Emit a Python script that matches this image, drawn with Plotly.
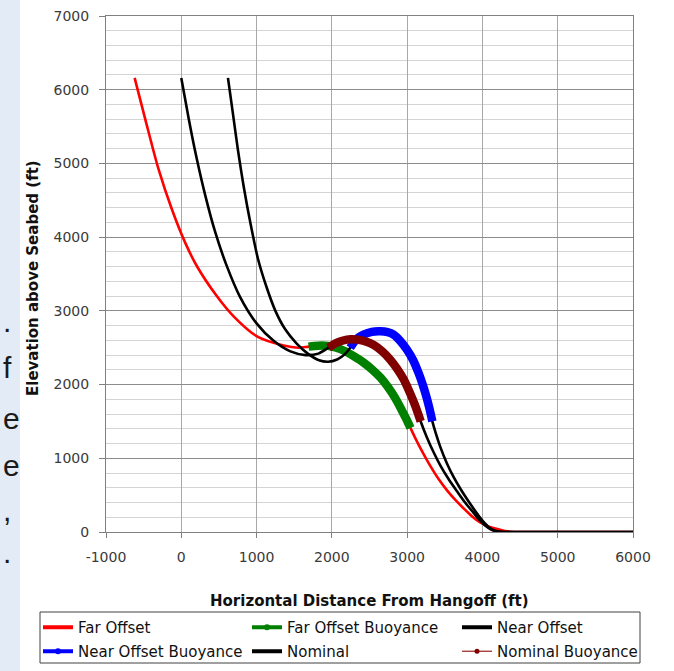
import plotly.graph_objects as go

# ---------------- data ----------------
far_x = [-620, -478, -301, -124, 53, 208, 474, 695, 1005, 1359, 1550, 1691, 1820, 1950, 2060,
         2170, 2290, 2420, 2540, 2650, 2750, 2840, 2920, 2990, 3045, 3110, 3190, 3305, 3420,
         3530, 3640, 3745, 3860, 3970, 4090, 4200, 4300, 4420, 5000, 6000]
far_y = [6160, 5598, 4918, 4375, 3922, 3605, 3197, 2925, 2654, 2530, 2500, 2515, 2528, 2525, 2500,
         2455, 2385, 2300, 2200, 2090, 1960, 1820, 1670, 1530, 1410, 1270, 1110, 900, 715,
         565, 435, 326, 215, 130, 70, 40, 14, 0, 0, 0]

far_buoy_x = [1691, 1820, 1950, 2060, 2170, 2290, 2420, 2540, 2650, 2750, 2840, 2920, 2990, 3045]
far_buoy_y = [2515, 2528, 2525, 2500, 2455, 2385, 2300, 2200, 2090, 1960, 1820, 1670, 1530, 1410]

near_x = [620, 680, 750, 830, 920, 1020, 1130, 1250, 1380, 1530, 1680, 1830, 1950, 2070, 2170,
          2244, 2330, 2421, 2530, 2643, 2740, 2819, 2910, 2997, 3080, 3152, 3210, 3260, 3300,
          3335, 3380, 3440, 3529, 3620, 3705, 3790, 3870, 3950, 4030, 4110, 4190, 4290, 5000, 6000]
near_y = [6160, 5720, 5200, 4680, 4180, 3700, 3330, 3000, 2750, 2560, 2420, 2330, 2310, 2340, 2410,
          2500, 2620, 2677, 2715, 2722, 2710, 2677, 2590, 2473, 2330, 2156, 1990, 1820, 1660,
          1500, 1340, 1155, 930, 740, 590, 455, 335, 220, 120, 45, 10, 0, 0, 0]

near_buoy_x = [2244, 2330, 2421, 2530, 2643, 2740, 2819, 2910, 2997, 3080, 3152, 3210, 3260, 3300, 3335]
near_buoy_y = [2500, 2620, 2677, 2715, 2722, 2710, 2677, 2590, 2473, 2330, 2156, 1990, 1820, 1660, 1500]

nom_x = [0, 100, 200, 320, 450, 600, 780, 1000, 1230, 1450, 1650, 1820, 1956, 2050, 2150,
         2250, 2340, 2450, 2560, 2670, 2776, 2870, 2952, 3040, 3110, 3180, 3260, 3350, 3440,
         3550, 3661, 3770, 3882, 3960, 4040, 4120, 4200, 4300, 5000, 6000]
nom_y = [6160, 5600, 5090, 4560, 4070, 3620, 3190, 2830, 2590, 2450, 2400, 2420, 2500, 2560, 2598,
         2614, 2610, 2585, 2535, 2450, 2337, 2210, 2075, 1880, 1705, 1500, 1290, 1085, 905,
         720, 555, 400, 260, 165, 85, 30, 7, 0, 0, 0]

nom_buoy_x = [1956, 2050, 2150, 2250, 2340, 2450, 2560, 2670, 2776, 2870, 2952, 3040, 3110, 3180]
nom_buoy_y = [2500, 2560, 2598, 2614, 2610, 2585, 2535, 2450, 2337, 2210, 2075, 1880, 1705, 1500]

x_ticks = [-1000, 0, 1000, 2000, 3000, 4000, 5000, 6000]
x_tick_labels = ["-1000", "0", "1000", "2000", "3000", "4000", "5000", "6000"]
y_ticks = [0, 1000, 2000, 3000, 4000, 5000, 6000, 7000]
y_tick_labels = ["0", "1000", "2000", "3000", "4000", "5000", "6000", "7000"]

series_names = ["Far Offset", "Far Offset Buoyance", "Near Offset",
                "Near Offset Buoyance", "Nominal", "Nominal Buoyance"]

# ---------------- layout geometry ----------------
W, H = 674, 671
L, R, T, B = 106, 633, 16, 532
pw, ph = R - L, B - T


def px(xp):
    return (xp - L) / pw


def py(yp):
    return (B - yp) / ph


FONT = "DejaVu Sans"
RED, GREEN, BLACK, BLUE, BROWN = "#ff0000", "#008000", "#000000", "#0000ff", "#800000"

fig = go.Figure()

# plotted curves (drawn in series order, as in the reference)
curves = [
    (far_x, far_y, RED, 2.6),
    (far_buoy_x, far_buoy_y, GREEN, 8.5),
    (near_x, near_y, BLACK, 2.6),
    (near_buoy_x, near_buoy_y, BLUE, 8.5),
    (nom_x, nom_y, BLACK, 2.6),
    (nom_buoy_x, nom_buoy_y, BROWN, 8.5),
]
for xs, ys, col, w in curves:
    fig.add_trace(go.Scatter(x=xs, y=ys, mode="lines", showlegend=False,
                             line=dict(color=col, width=w, shape="spline", smoothing=0.8),
                             hoverinfo="skip"))

# legend entries: three columns (legend, legend2, legend3)
leg_styles = [
    dict(mode="lines", line=dict(color=RED, width=4)),
    dict(mode="lines+markers", line=dict(color=GREEN, width=4), marker=dict(color=GREEN, size=6)),
    dict(mode="lines", line=dict(color=BLACK, width=4)),
    dict(mode="lines+markers", line=dict(color=BLUE, width=4), marker=dict(color=BLUE, size=6)),
    dict(mode="lines", line=dict(color=BLACK, width=4)),
    dict(mode="lines+markers", line=dict(color="#a0302a", width=1.3), marker=dict(color=BROWN, size=5)),
]
leg_cols = ["legend", "legend2", "legend3", "legend", "legend2", "legend3"]
for i, (name, st, lg) in enumerate(zip(series_names, leg_styles, leg_cols)):
    fig.add_trace(go.Scatter(x=[None], y=[None], name=name, legend=lg,
                             legendgroup="g%d" % i, **st))

leg_common = dict(orientation="v", xanchor="left", yanchor="top", y=py(611),
                  bgcolor="rgba(0,0,0,0)", borderwidth=0, itemwidth=30,
                  font=dict(family=FONT, size=15, color="#111"),
                  tracegroupgap=1.5, traceorder="grouped")

fig.update_layout(
    width=W, height=H,
    margin=dict(l=L, r=W - R, t=T, b=H - B, pad=0, autoexpand=False),
    paper_bgcolor="white", plot_bgcolor="white",
    font=dict(family=FONT, size=13, color="#222"),
    showlegend=True,
    legend=dict(x=px(38), **leg_common),
    legend2=dict(x=px(247), **leg_common),
    legend3=dict(x=px(457), **leg_common),
    xaxis=dict(range=[-1000, 6000], tickvals=x_ticks, ticktext=x_tick_labels,
               showgrid=True, gridcolor="#a8a8a8", gridwidth=1,
               showline=True, linecolor="#808080", linewidth=1, mirror=True,
               ticks="outside", ticklen=5, tickcolor="#808080", ticklabelstandoff=7,
               tickfont=dict(family=FONT, size=14, color="#3a3a3a"),
               zeroline=False, fixedrange=True),
    yaxis=dict(range=[0, 7000], tickvals=y_ticks, ticktext=y_tick_labels,
               showgrid=True, gridcolor="#8c8c8c", gridwidth=1,
               minor=dict(dtick=200, showgrid=True, gridcolor="#d4d4d4", gridwidth=1),
               showline=True, linecolor="#808080", linewidth=1, mirror=True,
               ticks="outside", ticklen=6, tickcolor="#808080", ticklabelstandoff=7,
               tickfont=dict(family=FONT, size=14, color="#3a3a3a"),
               zeroline=False, fixedrange=True),
)

# legend frame
fig.add_shape(type="rect", xref="paper", yref="paper", x0=px(40), x1=px(640), y0=py(663), y1=py(612),
              line=dict(color="#404040", width=1), fillcolor="rgba(0,0,0,0)", layer="above")

# axis titles
fig.add_annotation(text="<b>Horizontal Distance From Hangoff (ft)</b>", xref="paper", yref="paper",
                   x=px(369), y=py(601), xanchor="center", yanchor="middle", showarrow=False,
                   font=dict(family=FONT, size=15, color="#111"))
fig.add_annotation(text="<b>Elevation above Seabed (ft)</b>", xref="paper", yref="paper",
                   x=px(33), y=py(278), xanchor="center", yanchor="middle", showarrow=False,
                   textangle=-90, font=dict(family=FONT, size=15, color="#111"))

# slide strip on the left edge with clipped text fragments
fig.add_shape(type="rect", xref="paper", yref="paper", x0=px(0), x1=px(20), y0=py(H), y1=py(0),
              fillcolor="#e3ebf6", line=dict(width=0), layer="below")
frag_chars = [".", "f", "e", "e", ",", "."]
frag_y = [322, 367, 418, 465, 510, 552]
for ch, yy in zip(frag_chars, frag_y):
    fig.add_annotation(text=ch, xref="paper", yref="paper", x=px(1), y=py(yy),
                       xanchor="left", yanchor="middle", showarrow=False,
                       font=dict(family="Liberation Sans", size=30, color="#1a1a1a"))

fig.write_html("out.html", config={"displayModeBar": False},
               post_script="document.body.style.margin='0';document.body.style.padding='0';")
